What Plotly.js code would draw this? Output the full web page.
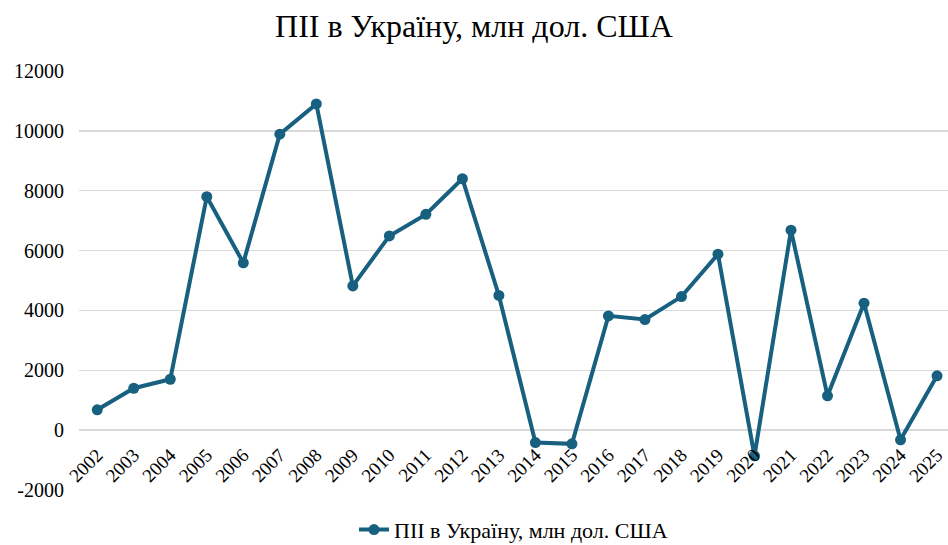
<!DOCTYPE html>
<html>
<head>
<meta charset="utf-8">
<script src="https://cdn.plot.ly/plotly-3.0.1.min.js"></script>
<style>html,body{margin:0;padding:0;background:#fff;}#chart{width:948px;height:545px;}</style>
</head>
<body>
<div id="chart"></div>
<script>
const years = ["2002","2003","2004","2005","2006","2007","2008","2009","2010","2011","2012","2013","2014","2015","2016","2017","2018","2019","2020","2021","2022","2023","2024","2025"];
const fdi = [680, 1400, 1700, 7800, 5590, 9890, 10900, 4820, 6490, 7210, 8400, 4500, -414, -458, 3818, 3695, 4463, 5878, -858, 6680, 1146, 4242, -324, 1814];
const seriesName = "ПІІ в Україну, млн дол. США";
const chartTitle = "ПІІ в Україну, млн дол. США";
const yTicks = [-2000, 0, 2000, 4000, 6000, 8000, 10000, 12000];
const yTickText = ["-2000", "0", "2000", "4000", "6000", "8000", "10000", "12000"];

const color = "#17607f";
const font = "'Liberation Serif', 'Times New Roman', serif";

Plotly.newPlot("chart", [{
  type: "scatter",
  mode: "lines+markers",
  x: years,
  y: fdi,
  name: seriesName,
  line: {color: color, width: 4},
  marker: {color: color, size: 11},
  cliponaxis: false
}], {
  width: 948, height: 545,
  margin: {l: 79, r: 0, t: 71, b: 55, autoexpand: false},
  paper_bgcolor: "#fff", plot_bgcolor: "#fff",
  font: {family: font, color: "#000", size: 20},
  title: {text: chartTitle, font: {family: font, size: 32, color: "#000"}, x: 0.5, xanchor: "center", y: 0.952, yanchor: "middle", yref: "container"},
  showlegend: true,
  legend: {orientation: "h", x: 0.5, xanchor: "center", y: -0.095, yanchor: "middle", font: {family: font, size: 22, color: "#000"}},
  xaxis: {
    type: "category",
    range: [-0.5, 23.3],
    anchor: "free",
    position: 0.1425,
    automargin: false,
    showgrid: false, showline: false, zeroline: false,
    ticks: "", tickangle: -45,
    ticklabelstandoff: 9,
    tickfont: {family: font, size: 19, color: "#000"}
  },
  yaxis: {
    range: [-2000, 12000],
    tickmode: "array",
    tickvals: yTicks,
    ticktext: yTickText,
    automargin: false,
    showgrid: true, gridcolor: "#d9d9d9", gridwidth: 1.5,
    zeroline: false, showline: false, ticks: "",
    ticklabelstandoff: 14,
    tickfont: {family: font, size: 20, color: "#000"}
  }
}, {displayModeBar: false, staticPlot: true});
</script>
</body>
</html>
